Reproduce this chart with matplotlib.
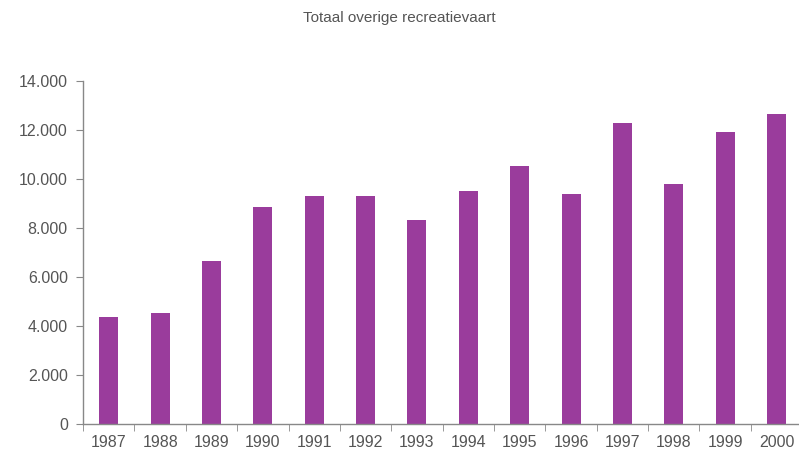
import matplotlib
matplotlib.use("Agg")
import matplotlib.pyplot as plt
from matplotlib.ticker import FuncFormatter, FixedLocator

# ── Data ─────────────────────────────────────────────────────────────────────
years = ["1987", "1988", "1989", "1990", "1991", "1992", "1993",
         "1994", "1995", "1996", "1997", "1998", "1999", "2000"]
totals = [4370, 4550, 6650, 8850, 9300, 9300, 8350,
          9500, 10550, 9400, 12300, 9800, 11920, 12650]

plt.rcParams["font.family"] = ["Liberation Sans", "DejaVu Sans"]
TEXT = "#555555"
AXIS = "#888888"

fig = plt.figure(figsize=(7.99, 4.61), dpi=100)
fig.patch.set_facecolor("white")
ax = fig.add_axes([0.104, 0.080, 0.900, 0.744])

x = list(range(len(years)))
ax.bar(x, totals, width=0.37, color="#9a3c9c")

ax.set_xlim(-0.5, len(years) - 0.5)
ax.set_ylim(0, 14000)
ax.set_yticks(range(0, 14001, 2000))
ax.yaxis.set_major_formatter(
    FuncFormatter(lambda v, p: f"{int(v):,}".replace(",", ".")))

# year labels centred under bars, tick marks on the category boundaries
ax.set_xticks(x)
ax.set_xticklabels(years)
ax.tick_params(axis="x", length=0, pad=8, labelsize=11.5, labelcolor=TEXT)
ax.xaxis.set_minor_locator(FixedLocator([i - 0.5 for i in range(len(years) + 1)]))
ax.tick_params(axis="x", which="minor", length=5, color=AXIS, direction="out")
ax.tick_params(axis="y", length=5, color=AXIS, pad=6, labelsize=11.5,
               labelcolor=TEXT)

for s in ["top", "right"]:
    ax.spines[s].set_visible(False)
for s in ["left", "bottom"]:
    ax.spines[s].set_color(AXIS)
    ax.spines[s].set_linewidth(1.0)

fig.text(0.5, 0.962, "Totaal overige recreatievaart", ha="center",
         va="center", fontsize=11, color=TEXT)

fig.savefig("out.png", dpi=100, facecolor="white")
